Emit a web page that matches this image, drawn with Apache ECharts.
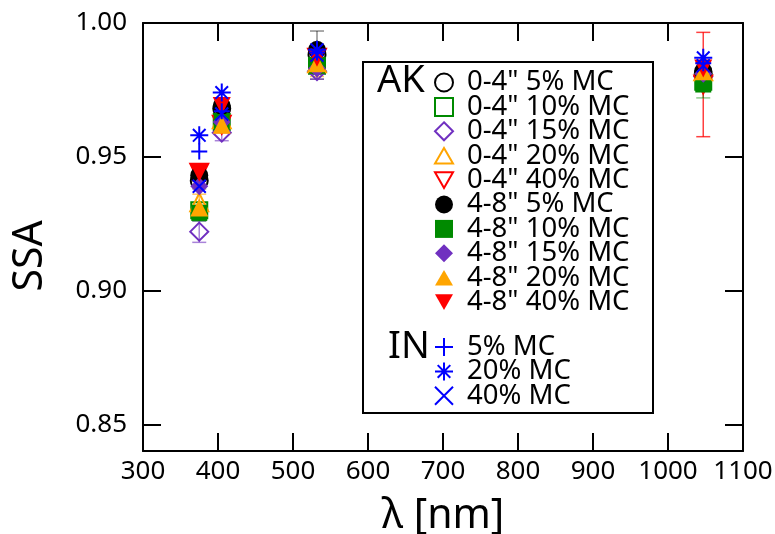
<!DOCTYPE html>
<html>
<head>
<meta charset="utf-8">
<script src="https://cdn.jsdelivr.net/npm/echarts@6/dist/echarts.min.js"></script>
<style>
  html, body { margin: 0; padding: 0; background: #fff; }
  #chart { width: 775px; height: 534px; }
</style>
</head>
<body>
<div id="chart"></div>
<script>
// Single-scattering albedo versus wavelength for AK and IN soil samples
const wavelengths = [375, 405, 532, 1047];

const ak04_5  = [0.941, 0.968, 0.988, 0.981];
const ak04_10 = [0.930, 0.963, 0.984, 0.978];
const ak04_15 = [0.922, 0.959, 0.982, 0.980];
const ak04_20 = [0.933, 0.964, 0.985, 0.982];
const ak04_40 = [0.944, 0.962, 0.987, 0.977];
const ak48_5  = [0.943, 0.969, 0.990, 0.982];
const ak48_10 = [0.929, 0.963, 0.984, 0.977];
const ak48_15 = [0.939, 0.963, 0.983, 0.981];
const ak48_20 = [0.931, 0.962, 0.985, 0.982];
const ak48_40 = [0.944, 0.969, 0.987, 0.983];
const in_5    = [0.952, 0.967, 0.989, 0.985];
const in_20   = [0.958, 0.974, 0.990, 0.987];
const in_40   = [0.939, 0.966, 0.988, 0.984];

// half-widths of the uncertainty bars
const ak04_5_err  = [0.003, 0.003, 0.009, 0.004];
const ak04_15_err = [0.004, 0.003, 0.003, 0.004];
const ak04_20_err = [0.003, 0.003, 0.005, 0.004];
const ak04_40_err = [0.003, 0.003, 0.004, 0.0195];
const ak48_10_err = [0.003, 0.003, 0.003, 0.005];

const yTicks = [0.85, 0.90, 0.95, 1.00];
const xTicks = [300, 400, 500, 600, 700, 800, 900, 1000, 1100];

const FONT = 'Noto Sans';
const BLUE = '#0000ff', GREEN = '#008a00', PURPLE = '#7030c0', ORANGE = '#ffa500', RED = '#ff0000', BLACK = '#000000';

const PLUS = 'path://M0,5 L10,5 M5,0 L5,10';
const STAR = 'path://M0,5 L10,5 M5,0 L5,10 M1.5,1.5 L8.5,8.5 M1.5,8.5 L8.5,1.5';
const CROSS = 'path://M0,0 L10,10 M0,10 L10,0';
const TRI_UP = 'path://M5,0 L10,8.66 L0,8.66 Z';
const TRI_DOWN = 'path://M0,0 L10,0 L5,8.66 Z';

function pts(vals) { return wavelengths.map((w, i) => [w, vals[i]]); }

function markers(name, vals, symbol, size, color, open) {
  return {
    name, type: 'scatter', data: pts(vals), symbol, symbolSize: size,
    itemStyle: open ? { color: 'rgba(0,0,0,0)', borderColor: color, borderWidth: 2, opacity: 1 }
                    : { color: color, opacity: 1 },
    emphasis: { disabled: true }, z: 3
  };
}

function lineMarkers(name, vals, symbol, size, color) {
  return {
    name, type: 'scatter', data: pts(vals), symbol, symbolSize: size,
    itemStyle: { color: 'rgba(0,0,0,0)', borderColor: color, borderWidth: 2, opacity: 1 },
    emphasis: { disabled: true }, z: 3
  };
}

function errorBars(vals, errs, color) {
  return {
    type: 'custom', silent: true, z: 2,
    data: wavelengths.map((w, i) => [w, vals[i] - errs[i], vals[i] + errs[i]]),
    renderItem: function (params, api) {
      const lo = api.coord([api.value(0), api.value(1)]);
      const hi = api.coord([api.value(0), api.value(2)]);
      const half = 7;
      const style = { stroke: color, lineWidth: 1.5 };
      return {
        type: 'group',
        children: [
          { type: 'line', shape: { x1: lo[0], y1: lo[1], x2: hi[0], y2: hi[1] }, style },
          { type: 'line', shape: { x1: lo[0] - half, y1: lo[1], x2: lo[0] + half, y2: lo[1] }, style },
          { type: 'line', shape: { x1: hi[0] - half, y1: hi[1], x2: hi[0] + half, y2: hi[1] }, style }
        ]
      };
    }
  };
}

const akNames = ['0-4" 5% MC', '0-4" 10% MC', '0-4" 15% MC', '0-4" 20% MC', '0-4" 40% MC',
                 '4-8" 5% MC', '4-8" 10% MC', '4-8" 15% MC', '4-8" 20% MC', '4-8" 40% MC'];
const inNames = ['5% MC', '20% MC', '40% MC'];

const series = [
  errorBars(ak04_5, ak04_5_err, 'rgba(0,0,0,0.45)'),
  errorBars(ak04_15, ak04_15_err, 'rgba(112,48,192,0.6)'),
  errorBars(ak04_20, ak04_20_err, 'rgba(255,165,0,0.6)'),
  errorBars(ak04_40, ak04_40_err, 'rgba(255,0,0,0.75)'),
  errorBars(ak48_10, ak48_10_err, 'rgba(0,138,0,0.45)'),
  markers(akNames[0], ak04_5, 'circle', 17, BLACK, true),
  markers(akNames[1], ak04_10, 'rect', 16, GREEN, true),
  markers(akNames[2], ak04_15, 'diamond', 18, PURPLE, true),
  markers(akNames[3], ak04_20, TRI_UP, 18, ORANGE, true),
  markers(akNames[4], ak04_40, TRI_DOWN, 18, RED, true),
  markers(akNames[5], ak48_5, 'circle', 18, BLACK, false),
  markers(akNames[6], ak48_10, 'rect', 16, GREEN, false),
  markers(akNames[7], ak48_15, 'diamond', 18, PURPLE, false),
  markers(akNames[8], ak48_20, TRI_UP, 18, ORANGE, false),
  markers(akNames[9], ak48_40, TRI_DOWN, 18, RED, false),
  lineMarkers(inNames[0], in_5, PLUS, 16, BLUE),
  lineMarkers(inNames[1], in_20, STAR, 18, BLUE),
  lineMarkers(inNames[2], in_40, CROSS, 13, BLUE)
];

const legendCommon = {
  orient: 'vertical', left: 434, itemWidth: 18, itemHeight: 18, itemGap: -3.6,
  selectedMode: false, inactiveColor: '#000', padding: 0,
  textStyle: { fontFamily: FONT, fontSize: 27.5, color: '#000', padding: [0, 0, 0, 9] }
};

const chart = echarts.init(document.getElementById('chart'), null, { renderer: 'canvas' });
chart.setOption({
  animation: false,
  backgroundColor: '#fff',
  grid: { left: 143, right: 32, top: 23, bottom: 83, containLabel: false, outerBoundsMode: 'none' },
  xAxis: [
    {
      type: 'value', min: 300, max: 1100, interval: 100, position: 'bottom',
      name: 'λ [nm]', nameLocation: 'middle', nameGap: 45,
      nameTextStyle: { fontFamily: FONT, fontSize: 41, color: '#000' },
      axisLine: { show: true, onZero: false, lineStyle: { color: '#000', width: 2 } },
      axisTick: { show: true, inside: true, length: 18, lineStyle: { color: '#000', width: 2 } },
      axisLabel: { fontFamily: FONT, fontSize: 26, color: '#000', margin: 8,
                   customValues: xTicks, formatter: v => String(v) },
      splitLine: { show: false }
    },
    {
      type: 'value', min: 300, max: 1100, interval: 100, position: 'top',
      axisLine: { show: true, onZero: false, lineStyle: { color: '#000', width: 2 } },
      axisTick: { show: true, inside: true, length: 18, lineStyle: { color: '#000', width: 2 } },
      axisLabel: { show: false },
      splitLine: { show: false }
    }
  ],
  yAxis: [
    {
      type: 'value', min: 0.84, max: 1.0, interval: 0.01, position: 'left',
      name: 'SSA', nameLocation: 'middle', nameGap: 92, nameRotate: 90,
      nameTextStyle: { fontFamily: FONT, fontSize: 41, color: '#000', padding: [0, 38, 0, 0] },
      axisLine: { show: true, onZero: false, lineStyle: { color: '#000', width: 2 } },
      axisTick: { show: true, inside: true, length: 18, lineStyle: { color: '#000', width: 2 },
                  customValues: yTicks },
      axisLabel: { fontFamily: FONT, fontSize: 26, color: '#000', margin: 16,
                   customValues: yTicks, formatter: v => v.toFixed(2) },
      splitLine: { show: false }
    },
    {
      type: 'value', min: 0.84, max: 1.0, interval: 0.01, position: 'right',
      axisLine: { show: true, onZero: false, lineStyle: { color: '#000', width: 2 } },
      axisTick: { show: true, inside: true, length: 18, lineStyle: { color: '#000', width: 2 },
                  customValues: yTicks },
      axisLabel: { show: false },
      splitLine: { show: false }
    }
  ],
  legend: [
    Object.assign({}, legendCommon, { top: 68.5, data: akNames }),
    Object.assign({}, legendCommon, { top: 333, data: inNames })
  ],
  graphic: [
    { type: 'rect', shape: { x: 363, y: 62, width: 290, height: 351 },
      style: { fill: 'none', stroke: '#000', lineWidth: 2 }, z: 1 },
    { type: 'text', left: 377, top: 62,
      style: { text: 'AK', font: '38px "Noto Sans"', fill: '#000' } },
    { type: 'text', left: 388, top: 328,
      style: { text: 'IN', font: '38px "Noto Sans"', fill: '#000' } }
  ],
  series
});
</script>
</body>
</html>
